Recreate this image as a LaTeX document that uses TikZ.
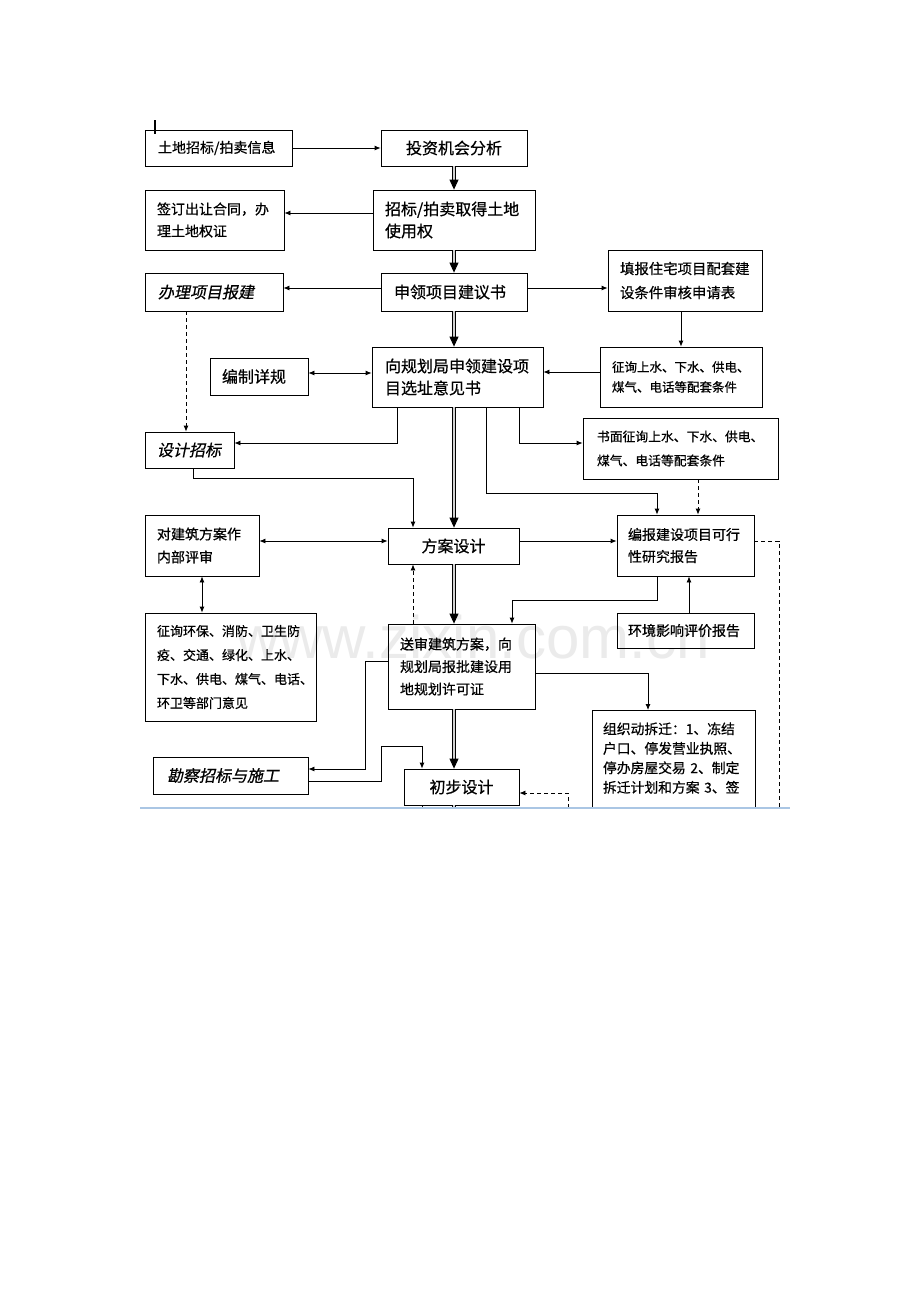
\documentclass[tikz,border=0pt]{standalone}
\usepackage{fontspec}
\setmainfont[FakeBold=0.6]{Noto Sans CJK SC}
\newfontfamily\cjkit[FakeSlant=0.2,FakeBold=0.6]{Noto Sans CJK SC}
\newfontfamily\wmfont{Liberation Sans}
\usetikzlibrary{arrows.meta}
\newcommand\fs[2]{\fontsize{#1pt}{#2pt}\selectfont}
\tikzset{
  box/.style={draw, line width=0.8pt, inner ysep=0pt, align=left},
  arr/.style={line width=0.8pt, -{Latex[length=6pt,width=5pt]}},
  darr/.style={line width=0.8pt, {Latex[length=6pt,width=5pt]}-{Latex[length=6pt,width=5pt]}},
  dsh/.style={line width=0.8pt, dash pattern=on 4pt off 3pt},
  dsharr/.style={dsh, -{Latex[length=6pt,width=5pt]}},
  trunkline/.style={line width=0.9pt, double=gray!35, double distance=1.3pt},
  trunk/.style={trunkline, -{Triangle[length=10pt,width=9pt]}},
}
\begin{document}
\begin{tikzpicture}[x=1pt,y=-1pt]
\useasboundingbox (0,0) rectangle (920,1302);
\fill[white] (0,0) rectangle (920,1302);
% watermark
\node[anchor=base west, inner sep=0pt, font=\wmfont\fs{60}{60}, text=gray!16] (wm) at (236,658) {www.zixin.com.cn};
% cursor mark
\draw[line width=1.6pt] (155,120) coordinate (cur1) -- (155,134) coordinate (cur2);
\begin{scope}
\clip (0,0) rectangle (920,807);
% boxes
\node[box, font=\fs{14}{18}, minimum height=36pt, inner xsep=13pt, text width=121pt] (xinxi) at (218.5,148) {土地招标/拍卖信息};
\node[box, font=\fs{16}{22}, minimum height=36pt, inner xsep=13pt, text width=120pt, align=center] (fenxi) at (454,148) {投资机会分析};
\node[box, font=\fs{16}{22}, minimum height=60pt, inner xsep=12pt, text width=138pt] (qude) at (454,220) {招标/拍卖取得土地\\使用权};
\node[box, font=\fs{14}{22}, minimum height=60pt, inner xsep=12pt, text width=115pt] (hetong) at (214.5,220) {签订出让合同，办\\理土地权证};
\node[box, font=\cjkit\fs{16}{22}, minimum height=38pt, inner xsep=13pt, text width=112pt] (baojian) at (214,292) {办理项目报建};
\node[box, font=\fs{16}{22}, minimum height=38pt, inner xsep=13pt, text width=120pt] (jianyi) at (454,292) {申领项目建议书};
\node[box, font=\fs{14.4}{24}, minimum height=61pt, inner xsep=12pt, text width=130pt] (tianbao) at (685,280.5) {填报住宅项目配套建\\设条件审核申请表};
\node[box, font=\fs{16}{22}, minimum height=60pt, inner xsep=13pt, text width=145pt] (xuanzhi) at (457.5,377) {向规划局申领建设项\\目选址意见书};
\node[box, font=\fs{16}{22}, minimum height=37pt, inner xsep=12pt, text width=74pt] (xiangui) at (259,376.5) {编制详规};
\node[box, font=\fs{12.5}{20}, minimum height=60pt, inner xsep=12pt, text width=138pt] (zhengxun) at (681,377) {征询上水、下水、供电、\\煤气、电话等配套条件};
\node[box, font=\cjkit\fs{16}{22}, minimum height=36pt, inner xsep=12pt, text width=65pt] (zhaobiao) at (189.5,450) {设计招标};
\node[box, font=\fs{12.8}{24}, minimum height=61pt, inner xsep=14pt, text width=167pt] (shumian) at (680.5,448.5) {书面征询上水、下水、供电、\\煤气、电话等配套条件};
\node[box, font=\fs{14}{23}, minimum height=61pt, inner xsep=12pt, text width=90pt] (pingshen) at (202,545.5) {对建筑方案作\\内部评审};
\node[box, font=\fs{16}{22}, minimum height=36pt, inner xsep=12pt, text width=107pt, align=center] (fangan) at (453.5,546) {方案设计};
\node[box, font=\fs{14}{22}, minimum height=61pt, inner xsep=11pt, text width=115pt] (kexing) at (685.5,545.5) {编报建设项目可行\\性研究报告};
\node[box, font=\fs{13}{24}, minimum height=108pt, inner xsep=12pt, text width=147pt] (yijian) at (230.5,667) {征询环保、消防、卫生防\\疫、交通、绿化、上水、\\下水、供电、煤气、电话、\\环卫等部门意见};
\node[box, font=\fs{14}{22}, minimum height=35pt, inner xsep=11pt, text width=115pt] (huanjing) at (685.5,630.5) {环境影响评价报告};
\node[box, font=\fs{14}{22.5}, minimum height=85pt, inner xsep=12pt, text width=123pt] (songshen) at (461.5,666.5) {送审建筑方案，向\\规划局报批建设用\\地规划许可证};
\node[box, font=\fs{13.8}{19.5}, anchor=north, inner xsep=11pt, inner ysep=12pt, text width=141pt] (chaiqian) at (673.5,710) {组织动拆迁：1、冻结\\户口、停发营业执照、\\停办房屋交易 2、制定\\拆迁计划和方案 3、签\\\mbox{}\\\mbox{}\\\mbox{}};
\node[box, font=\cjkit\fs{16}{22}, minimum height=37pt, inner xsep=14pt, text width=127pt] (kancha) at (230.5,775.5) {勘察招标与施工};
\node[box, font=\fs{16}{22}, minimum height=36pt, inner xsep=12pt, text width=91pt, align=center] (chubu) at (461.5,787) {初步设计};
% trunk arrows
\draw[trunk] (454,0 |- fenxi.south) -- (454,0 |- qude.north);
\draw[trunk] (454,0 |- qude.south) -- (454,0 |- jianyi.north);
\draw[trunk] (454,0 |- jianyi.south) -- (454,0 |- xuanzhi.north);
\draw[trunk] (454,0 |- xuanzhi.south) -- (454,0 |- fangan.north);
\draw[trunk] (454,0 |- fangan.south) -- (454,0 |- songshen.north);
\draw[trunk] (454,0 |- songshen.south) -- (454,0 |- chubu.north);
\draw[trunkline] (454,0 |- chubu.south) -- (454,815);
% thin connectors
\draw[arr] (xinxi.east) -- (fenxi.west);
\draw[arr] (qude.west |- 0,213) -- (hetong.east |- 0,213);
\draw[arr] (jianyi.west |- 0,288) -- (baojian.east |- 0,288);
\draw[arr] (jianyi.east |- 0,288) -- (tianbao.west |- 0,288);
\draw[dsharr] (186,0 |- baojian.south) -- (186,0 |- zhaobiao.north);
\draw[arr] (zhengxun.north |- tianbao.south) -- (zhengxun.north);
\draw[arr] (zhengxun.west |- 0,372) -- (xuanzhi.east |- 0,372);
\draw[darr] (xiangui.east |- 0,373) -- (xuanzhi.west |- 0,373);
\draw[arr] (397,0 |- xuanzhi.south) -- (397,443) -- (zhaobiao.east |- 0,443);
\draw[arr] (486,0 |- xuanzhi.south) -- (486,493) -- (657,493) -- (657,0 |- kexing.north);
\draw[arr] (519,0 |- xuanzhi.south) -- (519,443) -- (shumian.west |- 0,443);
\draw[dsharr] (698,0 |- shumian.south) -- (698,0 |- kexing.north);
\draw[arr] (193,0 |- zhaobiao.south) -- (193,478) -- (413,478) -- (413,0 |- fangan.north);
\draw[darr] (pingshen.east |- 0,541) -- (fangan.west |- 0,541);
\draw[arr] (fangan.east |- 0,541) -- (kexing.west |- 0,541);
\draw[darr] (pingshen.south) -- (pingshen.south |- yijian.north);
\draw[dsharr] (413,0 |- songshen.north) -- (413,0 |- fangan.south);
\draw[arr] (657,0 |- kexing.south) -- (657,600) -- (512,600) -- (512,0 |- songshen.north);
\draw[arr] (689,0 |- huanjing.north) -- (689,0 |- kexing.south);
\draw[dsh] (kexing.east |- 0,541) -- (779,541) -- (779,815);
\draw[arr] (songshen.west |- 0,661) -- (365,661) -- (365,769) -- (kancha.east |- 0,769);
\draw[arr] (kancha.east |- 0,781) -- (381,781) -- (381,746) -- (422,746) -- (422,0 |- chubu.north);
\draw[arr] (songshen.east |- 0,673) -- (648,673) -- (648,0 |- chaiqian.north);
\draw[dsharr] (568,815) -- (568,793) -- (chubu.east |- 0,793);
\draw[line width=0.8pt] (422,0 |- chubu.south) -- (422,815);
\end{scope}
\draw[line width=1.2pt, color={rgb,255:red,170;green,198;blue,228}] (140,808) coordinate (cl1) -- (790,808) coordinate (cl2);
\end{tikzpicture}
\end{document}
